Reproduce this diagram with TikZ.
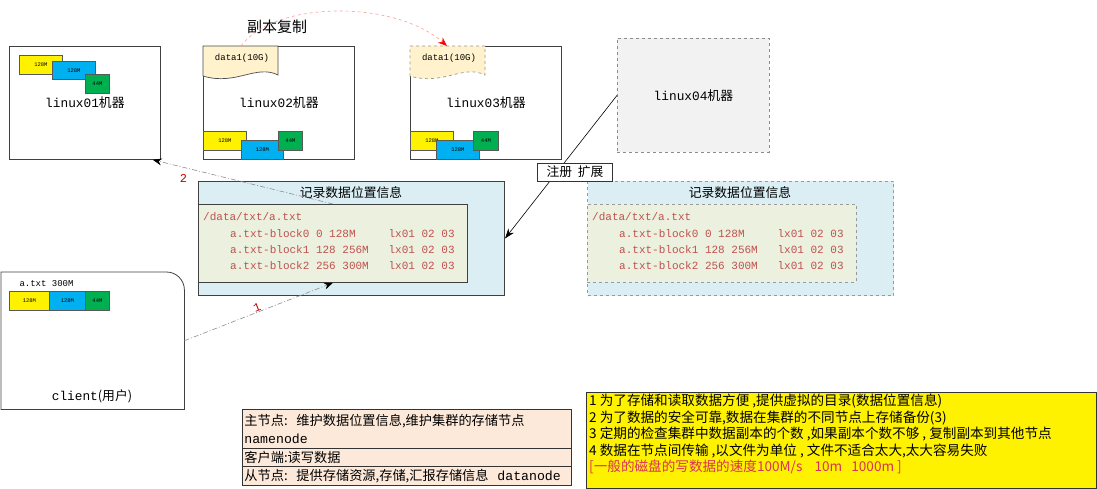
\documentclass[tikz,border=0pt]{standalone}
\usepackage{fontspec}
\setmainfont{Noto Sans CJK SC}
\setmonofont{Liberation Mono}
\usepackage{tikz}
\usetikzlibrary{arrows.meta}
\definecolor{nnblue}{HTML}{DAEEF3}
\definecolor{tabgreen}{HTML}{EBF1DE}
\definecolor{docfill}{HTML}{FFF2CC}
\definecolor{legfill}{HTML}{FDE9D9}
\definecolor{blkblue}{HTML}{00B0F0}
\definecolor{blkgreen}{HTML}{00B050}
\definecolor{recred}{HTML}{C0504D}
\definecolor{speedred}{HTML}{D9305C}

\begin{document}
\begin{tikzpicture}[x=1pt, y=-1pt, font=\fontsize{12.8}{15}\selectfont,
  machine/.style={draw=black!75, line width=0.8pt, fill=white, minimum width=151pt,
    minimum height=113pt, anchor=north west, inner sep=0pt},
  blk/.style={draw=black!65, line width=0.8pt, font=\fontsize{5.5}{6}\selectfont\ttfamily,
    minimum height=19pt, anchor=north west, inner sep=0pt},
  doc/.style={draw=black!70, line width=0.7pt, fill=docfill},
  nnbox/.style={draw=black!75, line width=1pt, fill=nnblue, minimum width=306pt,
    minimum height=114pt, anchor=north west, inner sep=0pt},
  tabbox/.style={draw=black!75, line width=0.8pt, fill=tabgreen, minimum width=269pt,
    minimum height=78pt, anchor=north west, inner sep=0pt},
  rec/.style={text=recred, font=\fontsize{11}{16}\selectfont\ttfamily, inner sep=0pt},
  small/.style={font=\fontsize{9}{10}\selectfont\ttfamily},
  link/.style={draw=black!45, line width=0.6pt, dash pattern=on 5pt off 2pt on 1pt off 2pt,
    -{Stealth[length=9pt, width=7pt, color=black]}},
  num/.style={text=red!75!black, font=\fontsize{12}{14}\selectfont\ttfamily},
  leg/.style={draw=black!80, line width=0.8pt, fill=legfill, minimum width=329pt,
    text width=325pt, align=left, anchor=north west, inner xsep=2pt, inner ysep=0pt,
    font=\fontsize{13.2}{18}\selectfont}]
\useasboundingbox (0,0) rectangle (1097,489);

% --- data nodes ---
\node[machine] (lx01) at (9,46) {{\ttfamily linux01}机器};
\node[blk, fill=yellow, minimum width=43pt] (b01a) at (19,55) {128M};
\node[blk, fill=blkblue, minimum width=43pt, minimum height=18pt] (b01b) at (52,61) {128M};
\node[blk, fill=blkgreen, minimum width=24pt] (b01c) at (85,74) {44M};

\node[machine] (lx02) at (203,46) {{\ttfamily linux02}机器};
\draw[doc] (203,46) -- (278,46) -- (278,75) .. controls (256,64) and (236,86) .. (203,76) -- cycle;
\node[small] (d02) at (242,58) {data1(10G)};
\coordinate (d02top) at (241,46);
\node[blk, fill=yellow, minimum width=43pt] (b02a) at (203,131) {128M};
\node[blk, fill=blkblue, minimum width=42pt] (b02b) at (241,140) {128M};
\node[blk, fill=blkgreen, minimum width=24pt] (b02c) at (278,131) {44M};

\node[machine] (lx03) at (410,46) {{\ttfamily linux03}机器};
\draw[doc, draw=black!40, dashed] (410,46) -- (485,46) -- (485,75) .. controls (463,64) and (443,86) .. (410,76) -- cycle;
\node[small] (d03) at (449,58) {data1(10G)};
\coordinate (d03top) at (447,46);
\node[blk, fill=yellow, minimum width=43pt] (b03a) at (410,131) {128M};
\node[blk, fill=blkblue, minimum width=43pt] (b03b) at (436,140) {128M};
\node[blk, fill=blkgreen, minimum width=25pt] (b03c) at (473,131) {44M};

\node[machine, draw=black!45, dashed, fill=black!5, minimum width=152pt, minimum height=114pt] (lx04) at (617,38) {{\ttfamily linux04}机器};

% --- replica ---
\node[font=\fontsize{15}{17}\selectfont] (rep) at (277,27) {副本复制};
\draw[draw=red!40, line width=0.6pt, dashed, -{Stealth[length=9pt, width=7pt, color=red]}]
  (d02top) .. controls (275,0) and (395,0) .. (d03top);

% --- namenode ---
\node[nnbox] (nn1) at (198,181) {};
\node (nn1t) at (351,193) {记录数据位置信息};
\node[tabbox] (nn1in) at (198,204) {};
\node[rec, anchor=west] (nn1p) at (203,217) {/data/txt/a.txt};
\node[rec, anchor=north west] (nn1r) at (230,226) {\begin{tabular}{@{}l@{\hspace{19.8pt}}l@{}}
  a.txt-block0 0 128M & lx01 02 03\\
  a.txt-block1 128 256M & lx01 02 03\\
  a.txt-block2 256 300M & lx01 02 03\end{tabular}};

\node[nnbox, draw=black!40, dashed] (nn2) at (587,181) {};
\node (nn2t) at (740,193) {记录数据位置信息};
\node[tabbox, draw=black!40, dashed] (nn2in) at (587,204) {};
\node[rec, anchor=west] (nn2p) at (592,217) {/data/txt/a.txt};
\node[rec, anchor=north west] (nn2r) at (619,226) {\begin{tabular}{@{}l@{\hspace{19.8pt}}l@{}}
  a.txt-block0 0 128M & lx01 02 03\\
  a.txt-block1 128 256M & lx01 02 03\\
  a.txt-block2 256 300M & lx01 02 03\end{tabular}};

% --- client ---
\node[minimum width=183pt, minimum height=137pt, anchor=north west, inner sep=0pt] (client) at (1,272) {};
\draw[black!75, line width=0.8pt] (client.south west) -- (client.north west)
  -- ([xshift=-18pt]client.north east) .. controls ([xshift=-8pt]client.north east) and ([yshift=-8pt]client.north east) .. ([yshift=-18pt]client.north east)
  -- (client.south east) -- cycle;
\node[small, anchor=west] (ctxt) at (16,284) {a.txt 300M};
\node[blk, fill=yellow, minimum width=40pt] (bca) at (9,291) {128M};
\node[blk, fill=blkblue, minimum width=36pt] (bcb) at (49,291) {128M};
\node[blk, fill=blkgreen, minimum width=24pt] (bcc) at (85,291) {44M};
\node (clt) at (92,396) {{\ttfamily client}(用户)};

% --- links ---
\draw[link] (client.east) -- node[num, midway, sloped, above=-3pt] {1} (nn1in.south);
\draw[link] (nn1in.north) -- node[num, pos=0.83, below=4pt] {2} ([xshift=-8pt]lx01.south east);
\draw[line width=0.6pt, -{Stealth[length=10pt, width=7pt]}] (lx04.west) -- (nn1.east);
\node[draw=black!80, line width=0.8pt, fill=white, minimum width=75pt, minimum height=18pt,
  inner sep=0pt] (reg) at (575,172) {注册\ \ 扩展};

% --- legend ---
\node[leg, minimum height=39pt] (leg1) at (242,409) {主节点:\ \ 维护数据位置信息,维护集群的存储节点\\{\ttfamily namenode}};
\node[leg, minimum height=18pt] (leg2) at (242,448) {客户端:读写数据};
\node[leg, minimum height=19pt] (leg3) at (242,466) {从节点:\ \ 提供存储资源,存储,汇报存储信息\ \ {\ttfamily datanode}};

% --- notes ---
\node[draw=black!80, line width=0.8pt, fill=yellow, minimum width=510pt, minimum height=96pt,
  anchor=north west, inner sep=0pt] (note) at (586,392) {};
\node[anchor=north west, align=left, inner sep=0pt, font=\fontsize{13.6}{16.5}\selectfont] (notet) at (589,394)
  {1 为了存储和读取数据方便 ,提供虚拟的目录(数据位置信息)\\
   2 为了数据的安全可靠,数据在集群的不同节点上存储备份(3)\\
   3 定期的检查集群中数据副本的个数 ,如果副本个数不够 , 复制副本到其他节点\\
   4 数据在节点间传输 ,以文件为单位 , 文件不适合太大,太大容易失败\\
   \textcolor{speedred}{[一般的磁盘的写数据的速度100M/s\ \ \ \ 10m\ \ \ 1000m ]}};
\end{tikzpicture}
\end{document}
